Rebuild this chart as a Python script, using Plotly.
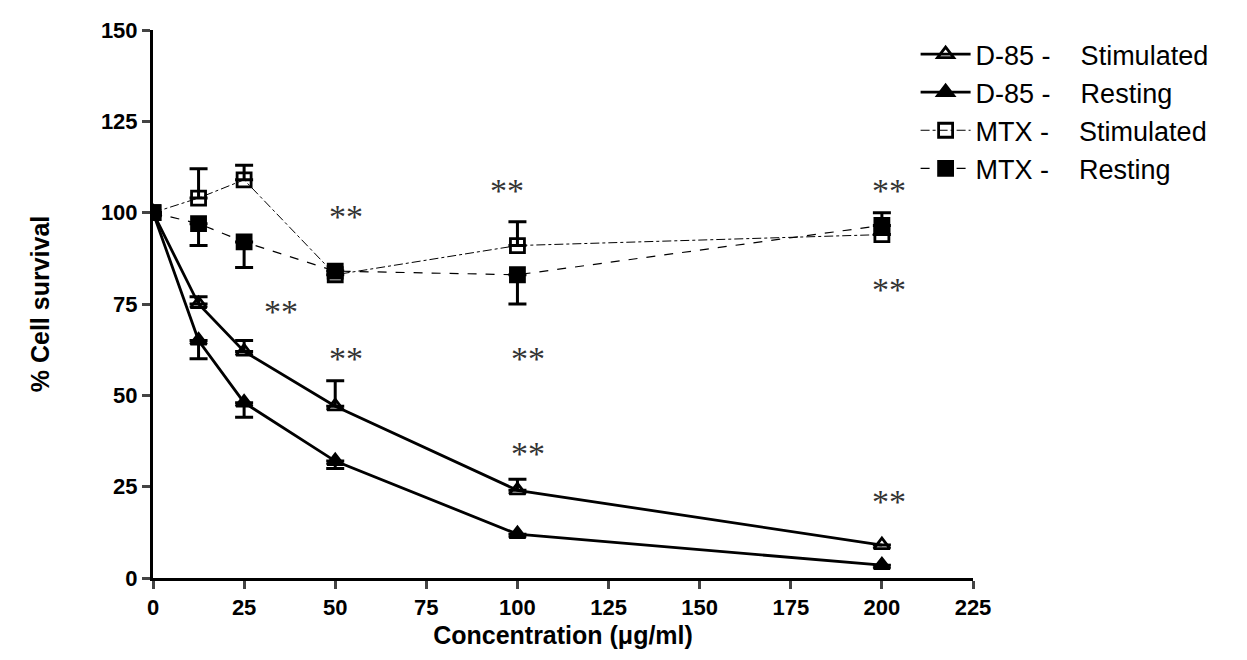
import plotly.graph_objects as go

conc = [0, 12.5, 25, 50, 100, 200]

d85_stim = [100, 75, 62, 47, 24, 9]
d85_stim_err = [0, 2, 3, 7, 3, 0]
d85_rest = [100, 65, 48, 32, 12, 3.5]
d85_rest_err = [0, 5, 4, 2, 0, 0]
mtx_stim = [100, 104, 109, 83, 91, 94]
mtx_stim_err = [0, 8, 4, 0, 6.5, 0]
mtx_rest = [100, 97, 92, 84, 83, 96.5]
mtx_rest_err_lo = [0, 6, 7, 0, 8, 0]
mtx_rest_err_hi = [0, 0, 0, 0, 0, 3.5]

x_ticks = list(range(0, 226, 25))
y_ticks = list(range(0, 151, 25))

star_x = [53, 97, 202, 202, 35, 53, 103, 103, 202]
star_y = [99, 106, 106, 79, 73, 60, 60, 34, 21]

fig = go.Figure()


def add(name, y, up, down, symbol, dash, width):
    fig.add_trace(go.Scatter(
        x=conc, y=y, name=name, mode="lines+markers",
        line=dict(color="black", width=width, dash=dash),
        marker=dict(symbol=symbol, size=14, color="black",
                    line=dict(color="black", width=2.8)),
        error_y=dict(type="data", symmetric=False, array=up, arrayminus=down,
                     color="black", thickness=3, width=9),
    ))


zeros = [0] * 6
add("D-85 -    Stimulated", d85_stim, d85_stim_err, zeros, "triangle-up-open", "solid", 2.8)
add("D-85 -    Resting", d85_rest, zeros, d85_rest_err, "triangle-up", "solid", 2.8)
add("MTX -    Stimulated", mtx_stim, mtx_stim_err, zeros, "square-open", "dashdot", 1)
add("MTX -    Resting", mtx_rest, mtx_rest_err_hi, mtx_rest_err_lo, "square", "dash", 1.2)

for sx, sy in zip(star_x, star_y):
    fig.add_annotation(x=sx, y=sy, text="**", showarrow=False,
                       font=dict(family="Liberation Serif", size=34, color="#333"))

axis_font = dict(family="Liberation Sans", size=22, color="black", weight="bold")
title_font = dict(family="Liberation Sans", size=25, color="black", weight="bold")
common = dict(ticks="outside", ticklen=8, tickwidth=3, showline=True, linewidth=3,
              linecolor="black", showgrid=False, zeroline=False, tickfont=axis_font,
              automargin=False)
fig.update_xaxes(range=[0, 225], tickmode="array", tickvals=x_ticks,
                 ticktext=[str(v) for v in x_ticks], **common,
                 title=dict(text="Concentration (μg/ml)", font=title_font, standoff=8))
fig.update_yaxes(range=[0, 150], tickmode="array", tickvals=y_ticks,
                 ticktext=[str(v) for v in y_ticks], **common,
                 title=dict(text="% Cell survival", font=title_font, standoff=45))

fig.update_layout(
    width=1247, height=660, plot_bgcolor="white", paper_bgcolor="white",
    font=dict(family="Liberation Sans", color="black"),
    margin=dict(l=145, r=282, t=22, b=90),
    legend=dict(x=0.93, y=1.0, xanchor="left", yanchor="top",
                font=dict(family="Liberation Sans", size=27, color="black"),
                tracegroupgap=0, itemwidth=50),
)

fig.write_html("out.html")
